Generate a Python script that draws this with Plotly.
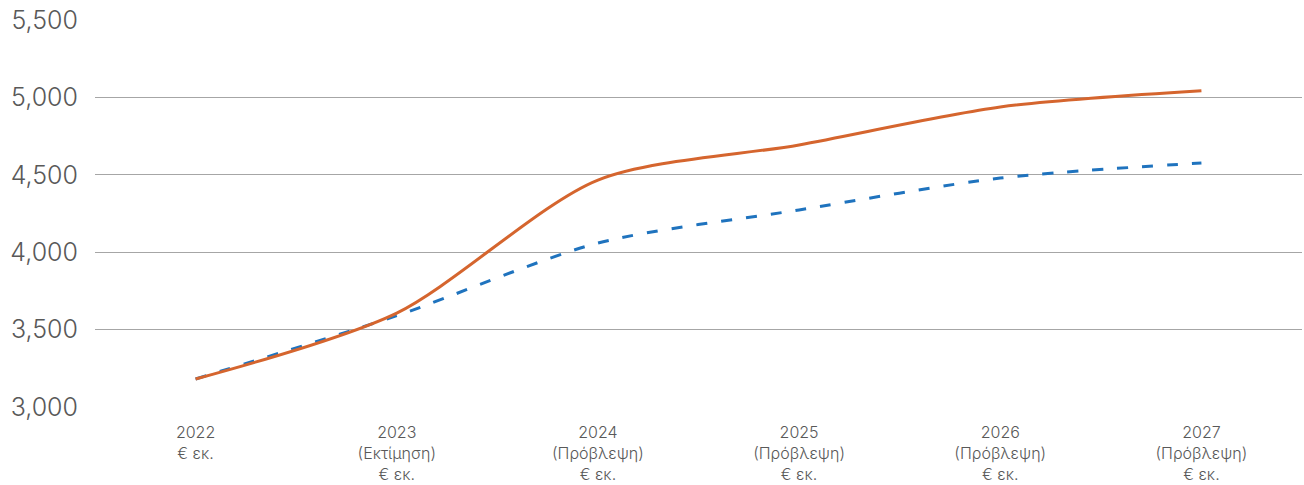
import plotly.graph_objects as go

categories = ["2022<br>€ εκ.", "2023<br>(Εκτίμηση)<br>€ εκ.", "2024<br>(Πρόβλεψη)<br>€ εκ.",
              "2025<br>(Πρόβλεψη)<br>€ εκ.", "2026<br>(Πρόβλεψη)<br>€ εκ.", "2027<br>(Πρόβλεψη)<br>€ εκ."]
orange_vals = [3181, 3607, 4466, 4693, 4938, 5043]
blue_vals = [3181, 3590, 4059, 4273, 4479, 4576]
y_ticks = [3000, 3500, 4000, 4500, 5000, 5500]

x_idx = list(range(len(categories)))

fig = go.Figure()
fig.add_trace(go.Scatter(x=x_idx, y=blue_vals, mode="lines",
                         line=dict(color="#1F73BE", width=3, dash="11px,14px", shape="spline", smoothing=0.8),
                         showlegend=False, hoverinfo="skip"))
fig.add_trace(go.Scatter(x=x_idx, y=orange_vals, mode="lines",
                         line=dict(color="#D5652E", width=3, shape="spline", smoothing=0.8),
                         showlegend=False, hoverinfo="skip"))

fig.update_layout(
    width=1304, height=485,
    margin=dict(l=95, r=2, t=20, b=78),
    plot_bgcolor="white", paper_bgcolor="white",
    font=dict(family="Inter, Liberation Sans, Arial, sans-serif", color="#595959"),
    xaxis=dict(tickmode="array", tickvals=x_idx, ticktext=categories,
               range=[-0.5, 5.5], showgrid=False, zeroline=False, showline=False,
               automargin=False,
               tickfont=dict(size=16, color="#595959", weight=300), ticks="", ticklabelstandoff=14),
    yaxis=dict(range=[3000, 5500], tickvals=y_ticks, tickformat=",",
               showgrid=True, gridcolor="#A6A6A6", gridwidth=1, zeroline=False,
               automargin=False, ticklabeloverflow="allow",
               tickfont=dict(size=25, color="#595959", weight=300), ticks="", ticklabelstandoff=16),
)

fig.write_html("out.html", config={"displayModeBar": False},
               post_script="document.body.style.margin='0';document.body.style.overflow='hidden';")
